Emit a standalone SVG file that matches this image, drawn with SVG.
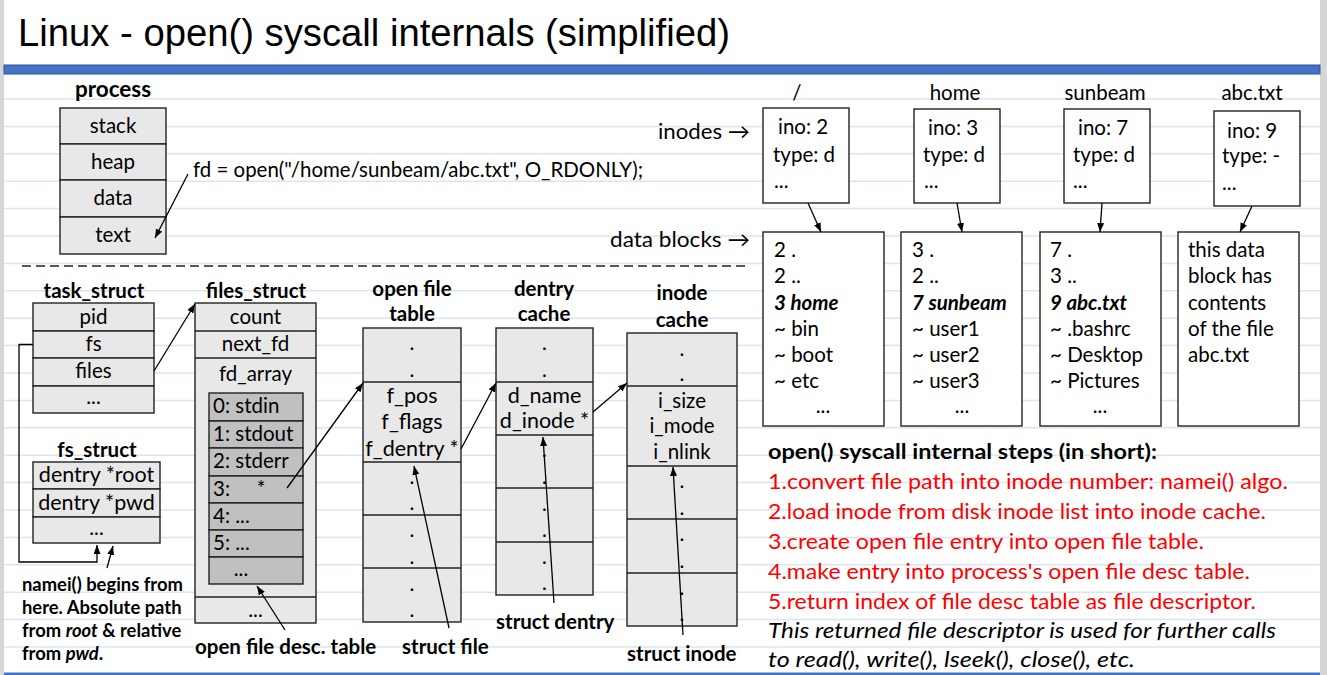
<svg xmlns="http://www.w3.org/2000/svg" width="1327" height="675" viewBox="0 0 1327 675">
<defs>
<marker id="ah" markerUnits="userSpaceOnUse" markerWidth="10" markerHeight="8" refX="9" refY="3.5" orient="auto">
<path d="M0,0 L9,3.5 L0,7 z" fill="#000"/>
</marker>
<style>
.t{font-family:Lato,"Open Sans","Noto Sans",sans-serif;font-size:20.5px;fill:#000}
.c{text-anchor:middle}
.b{font-weight:bold}
.i{font-style:italic}
.red{fill:#ff0000}
.box{fill:#e8e8e8;stroke:#222;stroke-width:1.4}
.ibox{fill:#c0c0c0;stroke:#222;stroke-width:1.4}
.wbox{fill:#fff;stroke:#222;stroke-width:1.4}
.sep{stroke:#222;stroke-width:1.4;fill:none}
.rule{stroke:#dbe4f2;stroke-width:1.5}
.conn{stroke:#000;stroke-width:1.3;fill:none;marker-end:url(#ah)}
.note{font-size:18.4px}
.big{font-size:21.5px}
.proc{font-size:22.5px}
.arr{font-size:21px}
</style>
</defs>
<rect x="0" y="0" width="1327" height="675" fill="#fff"/>
<rect x="0" y="0" width="4" height="675" fill="#d6d6d6"/>
<rect x="1320" y="0" width="7" height="675" fill="#d6d6d6"/>
<g id="rules">
<line class="rule" x1="4" x2="1320" y1="99" y2="99"/>
<line class="rule" x1="4" x2="1320" y1="126.4" y2="126.4"/>
<line class="rule" x1="4" x2="1320" y1="153.8" y2="153.8"/>
<line class="rule" x1="4" x2="1320" y1="181.2" y2="181.2"/>
<line class="rule" x1="4" x2="1320" y1="208.6" y2="208.6"/>
<line class="rule" x1="4" x2="1320" y1="236" y2="236"/>
<line class="rule" x1="4" x2="1320" y1="263.4" y2="263.4"/>
<line class="rule" x1="4" x2="1320" y1="290.8" y2="290.8"/>
<line class="rule" x1="4" x2="1320" y1="318.2" y2="318.2"/>
<line class="rule" x1="4" x2="1320" y1="345.6" y2="345.6"/>
<line class="rule" x1="4" x2="1320" y1="373" y2="373"/>
<line class="rule" x1="4" x2="1320" y1="400.4" y2="400.4"/>
<line class="rule" x1="4" x2="1320" y1="427.8" y2="427.8"/>
<line class="rule" x1="4" x2="1320" y1="455.2" y2="455.2"/>
<line class="rule" x1="4" x2="1320" y1="482.6" y2="482.6"/>
<line class="rule" x1="4" x2="1320" y1="510" y2="510"/>
<line class="rule" x1="4" x2="1320" y1="537.4" y2="537.4"/>
<line class="rule" x1="4" x2="1320" y1="564.8" y2="564.8"/>
<line class="rule" x1="4" x2="1320" y1="592.2" y2="592.2"/>
<line class="rule" x1="4" x2="1320" y1="619.6" y2="619.6"/>
<line class="rule" x1="4" x2="1320" y1="647" y2="647"/>
</g>
<rect x="4" y="65" width="1316" height="9" fill="#4472c4" stroke="#2f5597" stroke-width="1"/>
<rect x="4" y="672.5" width="1316" height="2.5" fill="#4472c4"/>
<text x="18" y="46" font-family="Liberation Sans,Arial,sans-serif" font-size="38" textLength="712" lengthAdjust="spacingAndGlyphs">Linux - open() syscall internals (simplified)</text>
<line class="sep" x1="22" y1="266" x2="750" y2="266" stroke-dasharray="9 5"/>

<g id="process">
<text class="t b c proc" x="113" y="97">process</text>
<rect class="box" x="60" y="108" width="106" height="36"/>
<rect class="box" x="60" y="144" width="106" height="36"/>
<rect class="box" x="60" y="180" width="106" height="37"/>
<rect class="box" x="60" y="217" width="106" height="37"/>
<text class="t c" x="113" y="133">stack</text>
<text class="t c" x="113" y="169">heap</text>
<text class="t c" x="113" y="205">data</text>
<text class="t c" x="113" y="242">text</text>
</g>
<text id="fdcall" class="t" x="193" y="177" textLength="450" lengthAdjust="spacingAndGlyphs">fd = open("/home/sunbeam/abc.txt", O_RDONLY);</text>
<text id="lbl-inodes" class="t arr" x="658" y="139" textLength="92" lengthAdjust="spacingAndGlyphs">inodes →</text>
<text id="lbl-datablocks" class="t arr" x="610" y="247" textLength="140" lengthAdjust="spacingAndGlyphs">data blocks →</text>

<g id="inode-root">
<text class="t c" x="797" y="100">/</text>
<rect class="wbox" x="763" y="108" width="86" height="95"/>
<text class="t" x="778" y="134">ino: 2</text>
<text class="t" x="773" y="162">type: d</text>
<text class="t" x="774" y="188">...</text>
</g>
<g id="inode-home">
<text class="t c" x="955" y="100">home</text>
<rect class="wbox" x="914" y="109" width="86" height="94"/>
<text class="t" x="928" y="135">ino: 3</text>
<text class="t" x="923" y="162">type: d</text>
<text class="t" x="924" y="188">...</text>
</g>
<g id="inode-sunbeam">
<text class="t c" x="1105" y="100">sunbeam</text>
<rect class="wbox" x="1064" y="109" width="86" height="94"/>
<text class="t" x="1078" y="135">ino: 7</text>
<text class="t" x="1073" y="162">type: d</text>
<text class="t" x="1073" y="188">...</text>
</g>
<g id="inode-abc">
<text class="t c" x="1252" y="100">abc.txt</text>
<rect class="wbox" x="1214" y="111" width="86" height="95"/>
<text class="t" x="1227" y="138">ino: 9</text>
<text class="t" x="1222" y="163">type: -</text>
<text class="t" x="1222" y="190">...</text>
</g>

<g id="db-root">
<rect class="wbox" x="763" y="232" width="121" height="194"/>
<text class="t" x="774" y="257">2 .</text>
<text class="t" x="774" y="283">2 ..</text>
<text class="t b i" x="774" y="310">3 home</text>
<text class="t" x="774" y="336">~ bin</text>
<text class="t" x="774" y="362">~ boot</text>
<text class="t" x="774" y="388">~ etc</text>
<text class="t c" x="823" y="413">...</text>
</g>
<g id="db-home">
<rect class="wbox" x="901" y="232" width="121" height="194"/>
<text class="t" x="912" y="257">3 .</text>
<text class="t" x="912" y="283">2 ..</text>
<text class="t b i" x="912" y="310">7 sunbeam</text>
<text class="t" x="912" y="336">~ user1</text>
<text class="t" x="912" y="362">~ user2</text>
<text class="t" x="912" y="388">~ user3</text>
<text class="t c" x="962" y="413">...</text>
</g>
<g id="db-sunbeam">
<rect class="wbox" x="1040" y="232" width="121" height="194"/>
<text class="t" x="1050" y="257">7 .</text>
<text class="t" x="1050" y="283">3 ..</text>
<text class="t b i" x="1050" y="310">9 abc.txt</text>
<text class="t" x="1050" y="336">~ .bashrc</text>
<text class="t" x="1050" y="362">~ Desktop</text>
<text class="t" x="1050" y="388">~ Pictures</text>
<text class="t c" x="1100" y="413">...</text>
</g>
<g id="db-abc">
<rect class="wbox" x="1178" y="232" width="121" height="194"/>
<text class="t" x="1188" y="257">this data</text>
<text class="t" x="1188" y="283">block has</text>
<text class="t" x="1188" y="310">contents</text>
<text class="t" x="1188" y="336">of the file</text>
<text class="t" x="1188" y="362">abc.txt</text>
</g>

<g id="task_struct">
<text class="t b c" x="94" y="298">task_struct</text>
<rect class="box" x="33" y="303" width="121" height="28"/>
<rect class="box" x="33" y="331" width="121" height="27"/>
<rect class="box" x="33" y="358" width="121" height="28"/>
<rect class="box" x="33" y="386" width="121" height="27"/>
<text class="t c" x="93.5" y="324">pid</text>
<text class="t c" x="93.5" y="351">fs</text>
<text class="t c" x="93.5" y="378">files</text>
<text class="t c" x="93.5" y="404">...</text>
</g>
<g id="fs_struct">
<text class="t b c" x="97" y="457">fs_struct</text>
<rect class="box" x="33" y="462" width="127" height="27"/>
<rect class="box" x="33" y="489" width="127" height="28"/>
<rect class="box" x="33" y="517" width="127" height="26"/>
<text class="t c big" x="96.5" y="482">dentry *root</text>
<text class="t c big" x="96.5" y="510">dentry *pwd</text>
<text class="t c" x="96.5" y="535">...</text>
</g>
<g id="namei-note">
<text class="t b note" x="22" y="591">namei() begins from</text>
<text class="t b note" x="22" y="614">here. Absolute path</text>
<text class="t b note" x="22" y="637">from <tspan font-style="italic">root</tspan> &amp; relative</text>
<text class="t b note" x="22" y="660">from <tspan font-style="italic">pwd</tspan>.</text>
</g>

<g id="files_struct">
<text class="t b c" x="256" y="298">files_struct</text>
<rect class="box" x="195" y="303" width="121" height="320"/>
<line class="sep" x1="195" y1="331" x2="316" y2="331"/>
<line class="sep" x1="195" y1="358" x2="316" y2="358"/>
<line class="sep" x1="195" y1="597" x2="316" y2="597"/>
<text class="t c" x="255.5" y="324">count</text>
<text class="t c" x="255.5" y="351">next_fd</text>
<text class="t c" x="255.5" y="381">fd_array</text>
<text class="t c" x="255.5" y="617">...</text>
<g id="fd_table">
<rect class="ibox" x="209" y="393" width="94" height="28"/>
<rect class="ibox" x="209" y="421" width="94" height="27"/>
<rect class="ibox" x="209" y="448" width="94" height="28"/>
<rect class="ibox" x="209" y="476" width="94" height="27"/>
<rect class="ibox" x="209" y="503" width="94" height="27"/>
<rect class="ibox" x="209" y="530" width="94" height="27"/>
<rect class="ibox" x="209" y="557" width="94" height="27"/>
<text class="t" x="213" y="413">0: stdin</text>
<text class="t" x="213" y="441">1: stdout</text>
<text class="t" x="213" y="468">2: stderr</text>
<text class="t" x="213" y="496">3:</text>
<text class="t c" x="261" y="496">*</text>
<text class="t" x="213" y="523">4: ...</text>
<text class="t" x="213" y="550">5: ...</text>
<text class="t c" x="241" y="576">...</text>
</g>
</g>
<text id="lbl-ofdt" class="t b" x="195" y="654">open file desc. table</text>

<g id="open_file_table">
<text class="t b c" x="412" y="296">open file</text>
<text class="t b c" x="412" y="321">table</text>
<rect class="box" x="363" y="328" width="98" height="294"/>
<line class="sep" x1="363" y1="382" x2="461" y2="382"/>
<line class="sep" x1="363" y1="462" x2="461" y2="462"/>
<line class="sep" x1="363" y1="515" x2="461" y2="515"/>
<line class="sep" x1="363" y1="568" x2="461" y2="568"/>
<text class="t c" x="412" y="350">.</text>
<text class="t c" x="412" y="377">.</text>
<text class="t c big" x="412" y="403">f_pos</text>
<text class="t c big" x="412" y="429">f_flags</text>
<text class="t c big" x="412" y="456">f_dentry *</text>
<text class="t c" x="412" y="484">.</text>
<text class="t c" x="412" y="510">.</text>
<text class="t c" x="412" y="537">.</text>
<text class="t c" x="412" y="564">.</text>
<text class="t c" x="412" y="591">.</text>
<text class="t c" x="412" y="617">.</text>
</g>
<text id="lbl-structfile" class="t b" x="402" y="654">struct file</text>

<g id="dentry_cache">
<text class="t b c" x="544" y="296">dentry</text>
<text class="t b c" x="544" y="321">cache</text>
<rect class="box" x="496" y="328" width="97" height="267"/>
<line class="sep" x1="496" y1="382" x2="593" y2="382"/>
<line class="sep" x1="496" y1="435" x2="593" y2="435"/>
<line class="sep" x1="496" y1="488" x2="593" y2="488"/>
<line class="sep" x1="496" y1="542" x2="593" y2="542"/>
<text class="t c" x="544.5" y="350">.</text>
<text class="t c" x="544.5" y="377">.</text>
<text class="t c big" x="544.5" y="403">d_name</text>
<text class="t c big" x="544.5" y="428">d_inode *</text>
<text class="t c" x="544.5" y="457">.</text>
<text class="t c" x="544.5" y="484">.</text>
<text class="t c" x="544.5" y="511">.</text>
<text class="t c" x="544.5" y="537">.</text>
<text class="t c" x="544.5" y="564">.</text>
<text class="t c" x="544.5" y="590">.</text>
</g>
<text id="lbl-structdentry" class="t b" x="496" y="629">struct dentry</text>

<g id="inode_cache">
<text class="t b c" x="682" y="300">inode</text>
<text class="t b c" x="682" y="327">cache</text>
<rect class="box" x="627" y="333" width="110" height="293"/>
<line class="sep" x1="627" y1="386" x2="737" y2="386"/>
<line class="sep" x1="627" y1="466" x2="737" y2="466"/>
<line class="sep" x1="627" y1="519" x2="737" y2="519"/>
<line class="sep" x1="627" y1="573" x2="737" y2="573"/>
<text class="t c" x="682" y="356">.</text>
<text class="t c" x="682" y="381">.</text>
<text class="t c" x="682" y="408">i_size</text>
<text class="t c" x="682" y="433">i_mode</text>
<text class="t c" x="682" y="459">i_nlink</text>
<text class="t c" x="682" y="488">.</text>
<text class="t c" x="682" y="515">.</text>
<text class="t c" x="682" y="541">.</text>
<text class="t c" x="682" y="568">.</text>
<text class="t c" x="682" y="595">.</text>
<text class="t c" x="682" y="621">.</text>
</g>
<text id="lbl-structinode" class="t b" x="627" y="661">struct inode</text>

<g id="steps">
<text class="t b" x="768" y="459" textLength="389" lengthAdjust="spacingAndGlyphs">open() syscall internal steps (in short):</text>
<text class="t red" x="768" y="489" textLength="520" lengthAdjust="spacingAndGlyphs">1.convert file path into inode number: namei() algo.</text>
<text class="t red" x="768" y="519" textLength="498" lengthAdjust="spacingAndGlyphs">2.load inode from disk inode list into inode cache.</text>
<text class="t red" x="768" y="549" textLength="436" lengthAdjust="spacingAndGlyphs">3.create open file entry into open file table.</text>
<text class="t red" x="768" y="579" textLength="482" lengthAdjust="spacingAndGlyphs">4.make entry into process's open file desc table.</text>
<text class="t red" x="768" y="609" textLength="488" lengthAdjust="spacingAndGlyphs">5.return index of file desc table as file descriptor.</text>
<text class="t i" x="768" y="638" textLength="508" lengthAdjust="spacingAndGlyphs">This returned file descriptor is used for further calls</text>
<text class="t i" x="768" y="667" textLength="367" lengthAdjust="spacingAndGlyphs">to read(), write(), lseek(), close(), etc.</text>
</g>

<g id="connectors">
<line class="conn" x1="188" y1="174" x2="155" y2="238"/>
<line class="conn" x1="808" y1="203" x2="821" y2="232"/>
<line class="conn" x1="957" y1="203" x2="962" y2="232"/>
<line class="conn" x1="1102" y1="203" x2="1100" y2="232"/>
<line class="conn" x1="1252" y1="206" x2="1240" y2="232"/>
<line class="conn" x1="154" y1="371" x2="195" y2="304"/>
<path class="conn" d="M33,344.5 H19 V562 H97 V545"/>
<line class="conn" x1="107" y1="568" x2="113" y2="546"/>
<line class="conn" x1="287" y1="488" x2="363" y2="383"/>
<line class="conn" x1="285" y1="630" x2="257" y2="586"/>
<line class="conn" x1="461" y1="449" x2="496" y2="383"/>
<line class="conn" x1="449" y1="628" x2="414" y2="466"/>
<line class="conn" x1="593" y1="412" x2="627" y2="383"/>
<line class="conn" x1="554" y1="603" x2="543" y2="437"/>
<line class="conn" x1="683" y1="635" x2="673" y2="467"/>
</g>
</svg>
